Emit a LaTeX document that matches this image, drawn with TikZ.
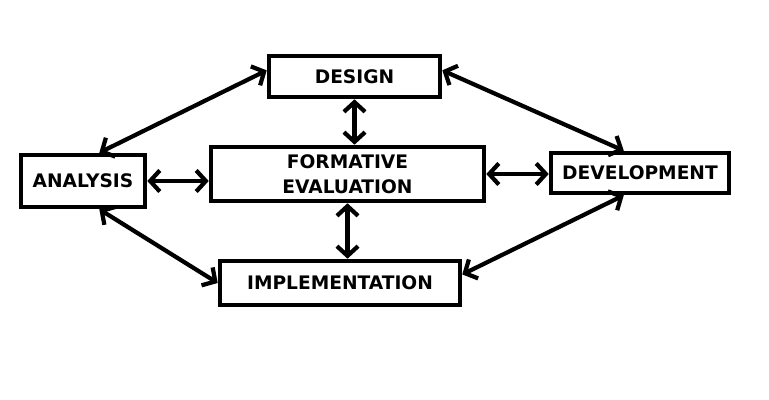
\documentclass[tikz,border=0pt]{standalone}
\usepackage{fontspec}
\setsansfont{DejaVu Sans}
\usetikzlibrary{arrows.meta}

\begin{document}
\begin{tikzpicture}[
    % Phase box style
    phase/.style={
        rectangle,
        draw=black,
        line width=2.6pt,
        fill=white,
        inner sep=0pt,
        align=center,
        font=\sffamily\bfseries\fontsize{10.6}{14}\selectfont
    },
    % Two-way arrow style
    link/.style={
        {Straight Barb[length=5.5pt,width=12pt]}-{Straight Barb[length=5.5pt,width=12pt]},
        line width=2.4pt,
        black
    }
]

% === Frame ===
\useasboundingbox[fill=white] (0,0) rectangle (15.38,8);

% === Phases ===
\node[phase, minimum width=3.42cm, minimum height=0.82cm] (design) at (7.09, 6.47) {DESIGN};
\node[phase, minimum width=5.46cm, minimum height=1.08cm] (formative) at (6.95, 4.52) {FORMATIVE\\EVALUATION};
\node[phase, minimum width=2.48cm, minimum height=1.04cm] (analysis) at (1.66, 4.38) {ANALYSIS};
\node[phase, minimum width=3.56cm, minimum height=0.8cm] (development) at (12.8, 4.54) {DEVELOPMENT};
\node[phase, minimum width=4.8cm, minimum height=0.88cm] (implementation) at (6.8, 2.34) {IMPLEMENTATION};

% === Outer ring ===
\draw[link] (analysis.60) -- (design.176);
\draw[link] (design.4) -- (development.126);
\draw[link] (development.234) -- (implementation.4);
\draw[link] (implementation.west) -- (analysis.300);

% === Links to the centre ===
\draw[link] (design.south) -- (design.south |- formative.north);
\draw[link] (formative.south) -- (formative.south |- implementation.north);
\draw[link] (analysis.east) -- (analysis.east -| formative.west);
\draw[link] (formative.east) -- (formative.east -| development.west);

\end{tikzpicture}
\end{document}
